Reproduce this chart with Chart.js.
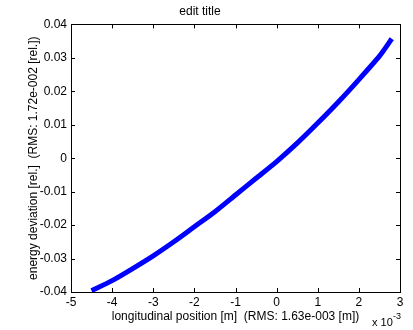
<!DOCTYPE html>
<html>
<head>
<meta charset="utf-8">
<script src="https://cdn.jsdelivr.net/npm/chart.js@4"></script>
<style>
  html, body { margin: 0; padding: 0; background: #fff; }
  #wrap { width: 413px; height: 330px; }
</style>
</head>
<body>
<div id="wrap"><canvas id="chart" width="413" height="330"></canvas></div>
<script>
// longitudinal position in units of 1e-3 m
const positions = [-4.5, -4.0, -3.5, -3.0, -2.5, -2.0, -1.5, -1.0, -0.5, 0.0, 0.5, 1.0, 1.5, 2.0, 2.5, 2.8];
// energy deviation [rel.]
const deviations = [-0.0396, -0.0366, -0.0330, -0.0292, -0.0250, -0.0205, -0.0160, -0.0110,
                    -0.0060, -0.0010, 0.0045, 0.0105, 0.0168, 0.0235, 0.0305, 0.0357];
const xTicks = [-5, -4, -3, -2, -1, 0, 1, 2, 3];
const yTicks = [-0.04, -0.03, -0.02, -0.01, 0, 0.01, 0.02, 0.03, 0.04];

const FONT = "Liberation Sans, Arial, sans-serif";

// box around the axes with inward ticks, like matlab
const boxPlugin = {
    id: "box",
    afterDraw(chart) {
        const ctx = chart.ctx;
        const a = chart.chartArea;
        const xs = chart.scales.x, ys = chart.scales.y;
        ctx.save();
        ctx.strokeStyle = "#000";
        ctx.lineWidth = 1;
        ctx.strokeRect(Math.round(a.left) + 0.5, Math.round(a.top) + 0.5,
                       Math.round(a.right - a.left), Math.round(a.bottom - a.top));
        ctx.beginPath();
        xTicks.forEach(v => {
            const px = Math.round(xs.getPixelForValue(v)) + 0.5;
            ctx.moveTo(px, a.bottom); ctx.lineTo(px, a.bottom - 4);
            ctx.moveTo(px, a.top); ctx.lineTo(px, a.top + 4);
        });
        yTicks.forEach(v => {
            const py = Math.round(ys.getPixelForValue(v)) + 0.5;
            ctx.moveTo(a.left, py); ctx.lineTo(a.left + 4, py);
            ctx.moveTo(a.right, py); ctx.lineTo(a.right - 4, py);
        });
        ctx.stroke();

        // exponent label
        ctx.fillStyle = "#000";
        ctx.textBaseline = "alphabetic";
        ctx.font = "11px " + FONT;
        ctx.fillText("x 10", a.right - 28, 326);
        ctx.font = "9px " + FONT;
        ctx.fillText("-3", a.right - 7, 319);
        ctx.restore();
    }
};

new Chart(document.getElementById("chart"), {
    type: "scatter",
    data: {
        datasets: [{
            data: positions.map((x, i) => ({ x: x, y: deviations[i] })),
            showLine: true,
            borderColor: "#0000ff",
            borderWidth: 5,
            pointRadius: 0,
            tension: 0.2,
            fill: false
        }]
    },
    options: {
        responsive: false,
        animation: false,
        layout: { padding: { left: 0, right: 13, top: 0, bottom: 0 } },
        plugins: {
            legend: { display: false },
            tooltip: { enabled: false },
            title: {
                display: true,
                text: "edit title",
                color: "#000",
                font: { family: FONT, size: 12, weight: "normal" },
                padding: { top: 4, bottom: 6 }
            }
        },
        scales: {
            x: {
                type: "linear",
                min: -5, max: 3,
                afterBuildTicks: s => { s.ticks = xTicks.map(v => ({ value: v })); },
                afterFit: s => { s.height = 38; },
                grid: { display: false, drawTicks: false },
                border: { display: false },
                ticks: {
                    color: "#000",
                    padding: 3,
                    font: { family: FONT, size: 12 },
                    callback: v => String(v)
                },
                title: {
                    display: true,
                    text: "longitudinal position [m]  (RMS: 1.63e-003 [m])",
                    color: "#000",
                    font: { family: FONT, size: 12 },
                    padding: { top: 0, bottom: 6 }
                }
            },
            y: {
                type: "linear",
                min: -0.04, max: 0.04,
                afterBuildTicks: s => { s.ticks = yTicks.map(v => ({ value: v })); },
                afterFit: s => { s.width = 71; },
                grid: { display: false, drawTicks: false },
                border: { display: false },
                ticks: {
                    color: "#000",
                    padding: 4,
                    font: { family: FONT, size: 12 },
                    callback: v => String(Math.round(v * 100) / 100)
                },
                title: {
                    display: true,
                    text: "energy deviation [rel.]  (RMS: 1.72e-002 [rel.])",
                    color: "#000",
                    font: { family: FONT, size: 12 },
                    padding: { top: 26, bottom: 0 }
                }
            }
        }
    },
    plugins: [boxPlugin]
});
</script>
</body>
</html>
